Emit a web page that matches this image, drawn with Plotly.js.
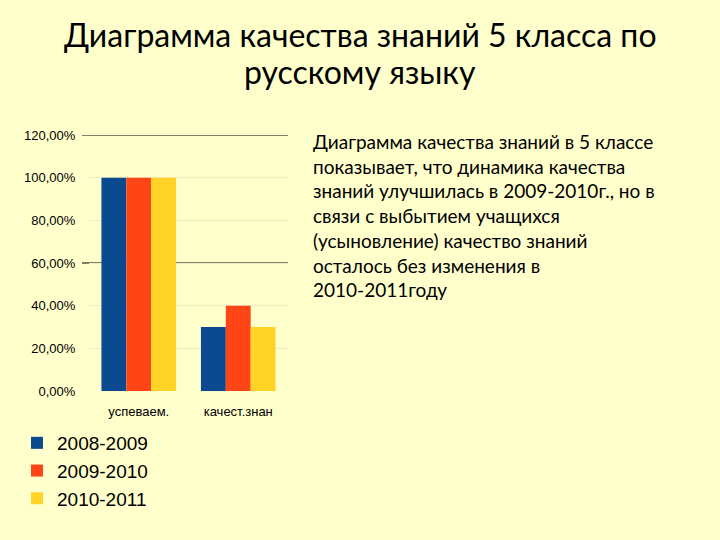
<!DOCTYPE html>
<html>
<head>
<meta charset="utf-8">
<script src="https://cdn.plot.ly/plotly-3.0.1.min.js"></script>
<style>
html,body{margin:0;padding:0;background:#FFFFCC;}
#chart{width:720px;height:540px;}
</style>
</head>
<body>
<div id="chart"></div>
<script>
const categories = ["успеваем.", "качест.знан"];
const seriesNames = ["2008-2009", "2009-2010", "2010-2011"];
const values2008 = [100, 30];
const values2009 = [100, 40];
const values2010 = [100, 30];
const seriesColors = ["#0B4A8F", "#FF4416", "#FFD426"];
const yTicks = [0, 20, 40, 60, 80, 100, 120];
const yTickLabels = ["0,00%", "20,00%", "40,00%", "60,00%", "80,00%", "100,00%", "120,00%"];
const strongLines = [60, 120];
const titleLines = ["Диаграмма качества знаний 5 класса по", "русскому языку"];
const bodyText = "Диаграмма качества знаний в 5 классе<br>показывает, что динамика качества<br>знаний улучшилась в 2009-2010г., но в<br>связи с выбытием учащихся<br>(усыновление) качество знаний<br>осталось без изменения в<br>2010-2011году";

const allValues = [values2008, values2009, values2010];
const traces = allValues.map((v, i) => ({
  type: "bar",
  name: seriesNames[i],
  x: categories,
  y: v,
  marker: {color: seriesColors[i], line: {width: 0}},
  hoverinfo: "skip"
}));

const W = 720, H = 540;
const plotL = 89, plotR = 288, plotT = 135, plotB = 391;

const titleAnns = titleLines.map((t, i) => ({
  text: t,
  xref: "paper", yref: "paper",
  x: 0.5, y: 1 - [35, 72][i] / H,
  xanchor: "center", yanchor: "middle",
  showarrow: false,
  font: {family: "Lato, sans-serif", size: 32, color: "#000"}
}));

const layout = {
  width: W, height: H,
  paper_bgcolor: "#FFFFCC",
  plot_bgcolor: "#FFFFCC",
  margin: {l: 0, r: 0, t: 0, b: 0},
  barmode: "group",
  bargap: 0.25,
  bargroupgap: 0,
  showlegend: true,
  font: {family: "Arial, Liberation Sans, sans-serif", color: "#000"},
  xaxis: {
    domain: [plotL / W, plotR / W],
    range: [-0.5, 1.5],
    showgrid: false,
    zeroline: false,
    showline: false,
    ticks: "outside",
    ticklen: 8,
    tickcolor: "rgba(0,0,0,0)",
    tickfont: {family: "Arial, Liberation Sans, sans-serif", size: 13, color: "#000"},
    fixedrange: true
  },
  yaxis: {
    domain: [1 - plotB / H, 1 - plotT / H],
    range: [0, 120],
    tickvals: yTicks,
    ticktext: yTickLabels,
    showgrid: true,
    gridcolor: "#F0EDC2",
    zeroline: false,
    showline: false,
    ticks: "outside",
    ticklen: 10,
    tickcolor: "rgba(0,0,0,0)",
    tickfont: {family: "Arial, Liberation Sans, sans-serif", size: 13, color: "#000"},
    fixedrange: true
  },
  shapes: strongLines.map(v => ({
    type: "line", xref: "paper", yref: "y",
    x0: 82 / W, x1: plotR / W, y0: v, y1: v,
    line: {color: "#000", width: 1},
    layer: "below"
  })),
  legend: {
    x: 17 / W, y: 1 - 424 / H, xanchor: "left", yanchor: "top",
    font: {family: "Arial, Liberation Sans, sans-serif", size: 19, color: "#000"},
    bgcolor: "rgba(0,0,0,0)",
    traceorder: "normal",
    itemclick: false
  },
  annotations: titleAnns.concat([{
    text: bodyText,
    xref: "paper", yref: "paper",
    x: 311 / W, y: 1 - 128 / H,
    xanchor: "left", yanchor: "top",
    align: "left",
    showarrow: false,
    font: {family: "Lato, sans-serif", size: 19, color: "#000"}
  }])
};

Plotly.newPlot("chart", traces, layout, {staticPlot: true, displayModeBar: false});
</script>
</body>
</html>
